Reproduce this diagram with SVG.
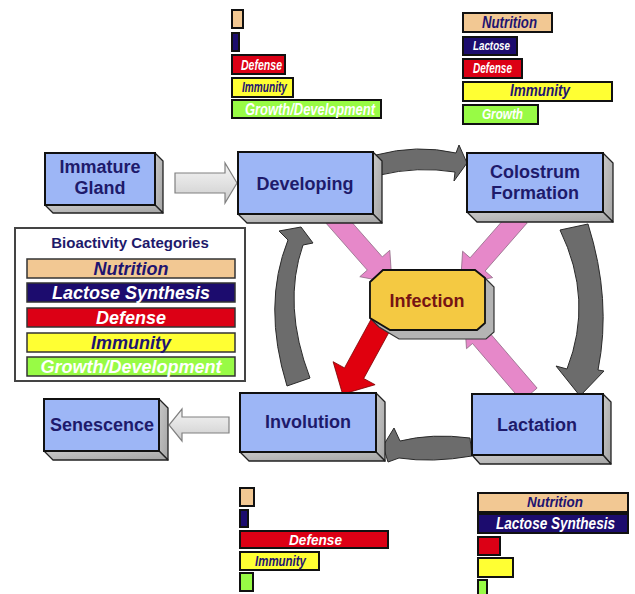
<svg xmlns="http://www.w3.org/2000/svg" width="635" height="594" viewBox="0 0 635 594">
<defs>
<linearGradient id="hollow" x1="0" y1="0" x2="0" y2="1">
<stop offset="0" stop-color="#f4f4f4"/>
<stop offset="0.5" stop-color="#e2e2e2"/>
<stop offset="1" stop-color="#cccccc"/>
</linearGradient>
<linearGradient id="side" x1="0" y1="0" x2="1" y2="1">
<stop offset="0" stop-color="#c8c8c8"/>
<stop offset="1" stop-color="#a4a4a4"/>
</linearGradient>
</defs>
<style>
.front{fill:#9db6f6;stroke:#111;stroke-width:2}
.face{fill:url(#side);stroke:#222;stroke-width:1.3;stroke-linejoin:round}
.lbl{font-family:"Liberation Sans",Arial,sans-serif;font-weight:bold;font-size:18px;fill:#1e1a6b;text-anchor:middle}
.grey{fill:#6c6c6c;stroke:#2a2a2a;stroke-width:1}
.pink{fill:#e688c9;stroke:#8e6a84;stroke-width:0.8}
.red{fill:#e0000e;stroke:#7a0000;stroke-width:0.8}
.hollow{fill:url(#hollow);stroke:#808080;stroke-width:1.2}
.bar{stroke:#111;stroke-width:2}
.lbar{stroke:#333;stroke-width:1.5}
.nut{fill:#f2c893}.lac{fill:#1c0c6e}.def{fill:#dc0015}.imm{fill:#ffff33}.gro{fill:#98fb45}
.bt{font-family:"Liberation Sans",Arial,sans-serif;font-weight:bold;font-style:italic}
.w{fill:#ffffff}.n{fill:#1e1470}
</style>
<rect width="635" height="594" fill="#ffffff"/>

<g id="connectors">
<polygon class="pink" points="341.4,210.4 382.3,256.9 389.8,250.3 392,283 359.8,276.7 367.3,270.1 326.4,223.6"/>
<polygon class="pink" points="512.2,209.7 470.1,257.8 462.6,251.2 460.5,284 492.6,277.6 485.1,271 527.2,222.9"/>
<polygon class="pink" points="521.9,401.1 472.5,343.5 466.5,348.7 464.5,318.8 493.7,325.3 487.7,330.5 537.1,388.1"/>
<polygon class="red" points="371.4,318.7 344.5,367.9 333.1,361.7 342.6,394.2 375.1,384.7 363.7,378.5 390.6,329.3"/>
<path class="grey" d="M376,155 Q417,144 456,153 L459,145 L467,163 L454,181 L455,172 Q417,166 380,175 Z"/>
<path class="grey" d="M588,224 Q612,300 598,370 L604,371 L580,396 L556,366 L567,369 Q594,300 560,230 Z"/>
<path class="grey" d="M470,438 Q432,433 400,441 L394,428 L383,446 L388,462 L399,458 Q432,463 472,456 Z"/>
<path class="grey" d="M287,386 Q262,305 288,240 L279,231 L301,227 L313,243 L303,245 Q282,305 310,378 Z"/>
<polygon class="hollow" points="175,173 225,173 225,163 237,183 225,203 225,193 175,193"/>
<polygon class="hollow" points="229,417 182,417 182,409 169,425 182,441 182,433 229,433"/>
</g>

<g id="immature">
<polygon class="face" points="155,153 163,161 163,213 155,205"/>
<polygon class="face" points="45,205 155,205 163,213 53,213"/>
<rect class="front" x="45" y="153" width="110" height="52"/>
<text class="lbl" x="100" y="173">Immature</text>
<text class="lbl" x="100" y="194">Gland</text>
</g>

<g id="developing">
<polygon class="face" points="373,152 382,161 382,223 373,214"/>
<polygon class="face" points="238,214 373,214 382,223 247,223"/>
<rect class="front" x="238" y="152" width="135" height="62"/>
<text class="lbl" x="305" y="190">Developing</text>
</g>

<g id="colostrum">
<polygon class="face" points="603,153 613,163 613,222 603,212"/>
<polygon class="face" points="467,212 603,212 613,222 477,222"/>
<rect class="front" x="467" y="153" width="136" height="59"/>
<text class="lbl" x="535" y="178">Colostrum</text>
<text class="lbl" x="535" y="199">Formation</text>
</g>

<g id="involution">
<polygon class="face" points="376,393 385,402 385,461 376,452"/>
<polygon class="face" points="240,452 376,452 385,461 249,461"/>
<rect class="front" x="240" y="393" width="136" height="59"/>
<text class="lbl" x="308" y="428">Involution</text>
</g>

<g id="lactation">
<polygon class="face" points="603,394 611,402 611,464 603,455"/>
<polygon class="face" points="472,455 603,455 611,464 480,464"/>
<rect class="front" x="472" y="394" width="131" height="61"/>
<text class="lbl" x="537" y="431">Lactation</text>
</g>

<g id="senescence">
<polygon class="face" points="159,399 168,408 168,460 159,451"/>
<polygon class="face" points="44,451 159,451 168,460 53,460"/>
<rect class="front" x="44" y="399" width="115" height="52"/>
<text class="lbl" x="102" y="431">Senescence</text>
</g>

<g id="infection">
<polygon points="383,270 475,270 485,278 494,287 494,332 486,339 399,339 379,327 370,318 370,282" fill="#b4b4b4" stroke="#333" stroke-width="1.2"/>
<polygon points="383,270 475,270 485,278 485,323 477,330 390,330 370,318 370,282" fill="#f4c942" stroke="#111" stroke-width="1.8"/>
<text x="427" y="307" font-family="Liberation Sans,Arial,sans-serif" font-weight="bold" font-size="18" fill="#761414" text-anchor="middle">Infection</text>
</g>

<g id="legend">
<rect x="15" y="228" width="230" height="153" fill="#ffffff" stroke="#444" stroke-width="2"/>
<text x="130" y="248" font-family="Liberation Sans,Arial,sans-serif" font-weight="bold" font-size="15" fill="#1e1a6b" text-anchor="middle">Bioactivity Categories</text>
<rect class="lbar nut" x="27" y="259" width="208" height="19"/>
<rect class="lbar lac" x="27" y="283" width="208" height="19"/>
<rect class="lbar def" x="27" y="308" width="208" height="19"/>
<rect class="lbar imm" x="27" y="333" width="208" height="19"/>
<rect class="lbar gro" x="27" y="357" width="208" height="19"/>
<g class="bt" font-size="18" text-anchor="middle">
<text class="n" x="131" y="275">Nutrition</text>
<text class="w" x="131" y="299">Lactose Synthesis</text>
<text class="w" x="131" y="324">Defense</text>
<text class="n" x="131" y="349">Immunity</text>
<text class="w" x="131" y="373">Growth/Development</text>
</g>
</g>

<g id="bars-developing">
<rect class="bar nut" x="232" y="10" width="11" height="18"/>
<rect class="bar lac" x="232" y="33" width="7" height="18"/>
<rect class="bar def" x="232" y="55" width="53" height="19"/>
<rect class="bar imm" x="232" y="78" width="61" height="19"/>
<rect class="bar gro" x="232" y="100" width="149" height="18"/>
<text class="bt w" x="241" y="70" font-size="14" textLength="41" lengthAdjust="spacingAndGlyphs">Defense</text>
<text class="bt n" x="242" y="92" font-size="15" textLength="45" lengthAdjust="spacingAndGlyphs">Immunity</text>
<text class="bt w" x="245" y="115" font-size="17" textLength="130" lengthAdjust="spacingAndGlyphs">Growth/Development</text>
</g>

<g id="bars-colostrum">
<rect class="bar nut" x="463" y="13" width="89" height="19"/>
<rect class="bar lac" x="463" y="37" width="54" height="18"/>
<rect class="bar def" x="463" y="59" width="59" height="19"/>
<rect class="bar imm" x="463" y="82" width="149" height="19"/>
<rect class="bar gro" x="463" y="105" width="75" height="19"/>
<text class="bt n" x="482" y="28" font-size="17" textLength="55" lengthAdjust="spacingAndGlyphs">Nutrition</text>
<text class="bt w" x="473" y="50" font-size="12" textLength="37" lengthAdjust="spacingAndGlyphs">Lactose</text>
<text class="bt w" x="473" y="73" font-size="14" textLength="39" lengthAdjust="spacingAndGlyphs">Defense</text>
<text class="bt n" x="510" y="96" font-size="17" textLength="60" lengthAdjust="spacingAndGlyphs">Immunity</text>
<text class="bt w" x="482" y="119" font-size="15" textLength="41" lengthAdjust="spacingAndGlyphs">Growth</text>
</g>

<g id="bars-involution">
<rect class="bar nut" x="240" y="488" width="14" height="18"/>
<rect class="bar lac" x="240" y="510" width="8" height="17"/>
<rect class="bar def" x="240" y="531" width="148" height="17"/>
<rect class="bar imm" x="240" y="552" width="79" height="18"/>
<rect class="bar gro" x="240" y="573" width="13" height="18"/>
<text class="bt w" x="289" y="545" font-size="15" textLength="53" lengthAdjust="spacingAndGlyphs">Defense</text>
<text class="bt n" x="255" y="566" font-size="15" textLength="51" lengthAdjust="spacingAndGlyphs">Immunity</text>
</g>

<g id="bars-lactation">
<rect class="bar nut" x="478" y="493" width="150" height="19"/>
<rect class="bar lac" x="478" y="514" width="150" height="19"/>
<rect class="bar def" x="478" y="537" width="22" height="18"/>
<rect class="bar imm" x="478" y="558" width="35" height="19"/>
<rect class="bar gro" x="478" y="580" width="9" height="18"/>
<text class="bt n" x="527" y="507" font-size="15" textLength="56" lengthAdjust="spacingAndGlyphs">Nutrition</text>
<text class="bt w" x="496" y="529" font-size="16" textLength="119" lengthAdjust="spacingAndGlyphs">Lactose Synthesis</text>
</g>
</svg>
